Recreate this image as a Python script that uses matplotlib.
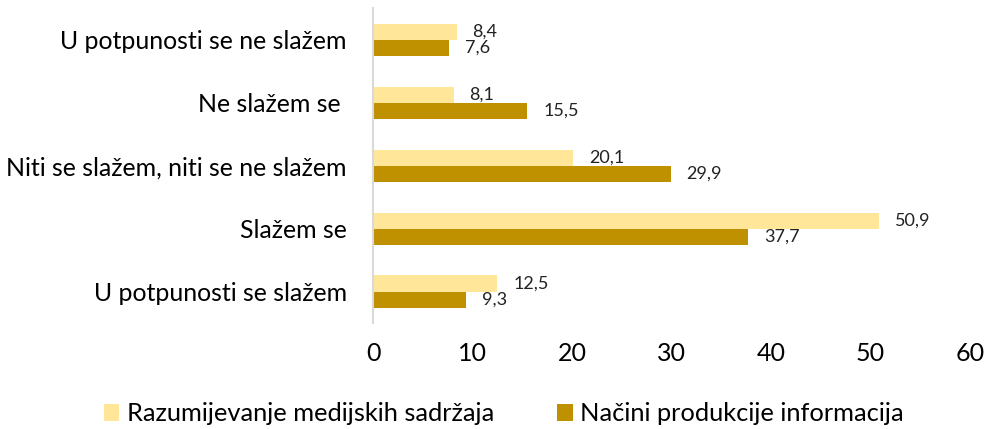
import numpy as np
import matplotlib.pyplot as plt

categories = ['U potpunosti se ne slažem', 'Ne slažem se ', 'Niti se slažem, niti se ne slažem',
              'Slažem se', 'U potpunosti se slažem']
razumijevanje = [8.4, 8.1, 20.1, 50.9, 12.5]
nacini = [7.6, 15.5, 29.9, 37.7, 9.3]
series_names = ['Razumijevanje medijskih sadržaja', 'Načini produkcije informacija']

light = '#FFE699'
dark = '#BF9000'

plt.rcParams['font.family'] = ['Lato', 'DejaVu Sans']

fig = plt.figure(figsize=(9.9, 4.29), dpi=100)
ax = fig.add_axes([0.3768, 0.247, 0.603, 0.734])

y = np.arange(len(categories))
h = 0.255
b1 = ax.barh(y - h / 2, razumijevanje, height=h, color=light, label=series_names[0])
b2 = ax.barh(y + h / 2, nacini, height=h, color=dark, label=series_names[1])

# data labels, comma as decimal sign
for bars, vals in ((b1, razumijevanje), (b2, nacini)):
    for bar, v in zip(bars, vals):
        ax.annotate(f'{v:.1f}'.replace('.', ','),
                    (bar.get_width(), bar.get_y() + bar.get_height() / 2),
                    xytext=(16, 0), textcoords='offset pixels',
                    ha='left', va='center', fontsize=13, color='#222222')

ax.set_xlim(0, 60)
ax.set_ylim(len(categories) - 0.5, -0.5)
ax.set_xticks(range(0, 61, 10))
ax.set_yticks(y)
ax.set_yticklabels(categories)
ax.tick_params(axis='y', length=0, pad=19, labelsize=17.9)
ax.tick_params(axis='x', length=0, pad=14, labelsize=18)
for s in ('top', 'right', 'bottom'):
    ax.spines[s].set_visible(False)
ax.spines['left'].set_color('#D9D9D9')
ax.spines['left'].set_linewidth(1.5)

fig.legend(loc='lower center', bbox_to_anchor=(0.509, -0.045), ncol=2, frameon=False,
           fontsize=18.3, handlelength=0.6, handleheight=0.6, handletextpad=0.3,
           columnspacing=2.5)

fig.savefig('out.png', dpi=100)
